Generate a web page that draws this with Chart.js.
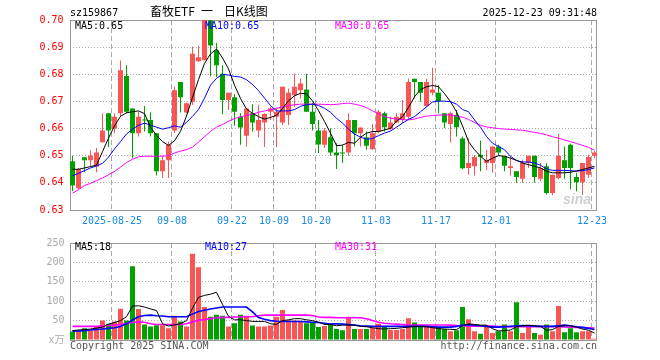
<!DOCTYPE html>
<html>
<head>
<meta charset="utf-8">
<script src="https://cdn.jsdelivr.net/npm/chart.js@4.4.1/dist/chart.umd.min.js"></script>
<style>
body { margin: 0; background: #fff; }
#wrap { position: relative; width: 660px; height: 360px; overflow: hidden; background: #fff;
  font-family: 'DejaVu Sans Mono', 'Noto Sans CJK SC', monospace; font-size: 10px; }
canvas { position: absolute; left: 0; }
.t { position: absolute; white-space: pre; line-height: 10px; }
.ti { position: absolute; top: 5px; font-family: 'Noto Sans CJK SC'; font-size: 12px; line-height: 12px; color: #000; white-space: pre; }
</style>
</head>
<body>
<div id="wrap">
  <canvas id="kline" width="660" height="232" style="top:0"></canvas>
  <canvas id="vol" width="660" height="128" style="top:232px"></canvas>

  <div class="t" style="left:70px;top:8px;color:#000">sz159867</div>
  <div class="ti" style="left:150px">畜牧ETF</div>
  <div class="ti" style="left:201px">一</div>
  <div class="ti" style="left:224px">日K线图</div>
  <div class="t" style="right:63px;top:8px;color:#000">2025-12-23 09:31:48</div>

  <div class="t" style="left:75px;top:21px;color:#000">MA5:0.65</div>
  <div class="t" style="left:205px;top:21px;color:#0000ff">MA10:0.65</div>
  <div class="t" style="left:335px;top:21px;color:#ff00ff">MA30:0.65</div>

  <div class="t" style="left:75px;top:242px;color:#000">MA5:18</div>
  <div class="t" style="left:205px;top:242px;color:#0000ff">MA10:27</div>
  <div class="t" style="left:335px;top:242px;color:#ff00ff">MA30:31</div>

  <div class="t" style="left:563px;top:192px;font-family:'Liberation Sans';font-style:italic;font-weight:bold;font-size:14px;line-height:14px;color:#cfcfcf">sina</div>

  <div class="t" style="left:70px;top:341px;color:#555">Copyright 2025 SINA.COM</div>
  <div class="t" style="right:63px;top:341px;color:#555">http://finance.sina.com.cn</div>
</div>

<script>
// trading days shown on the chart
const dates = [
  '2025-08-14','2025-08-15','2025-08-18','2025-08-19','2025-08-20','2025-08-21','2025-08-22',
  '2025-08-25','2025-08-26','2025-08-27','2025-08-28','2025-08-29',
  '2025-09-01','2025-09-02','2025-09-03','2025-09-04','2025-09-05',
  '2025-09-08','2025-09-09','2025-09-10','2025-09-11','2025-09-12',
  '2025-09-15','2025-09-16','2025-09-17','2025-09-18','2025-09-19',
  '2025-09-22','2025-09-23','2025-09-24','2025-09-25','2025-09-26','2025-09-29','2025-09-30',
  '2025-10-09','2025-10-10','2025-10-13','2025-10-14','2025-10-15','2025-10-16','2025-10-17',
  '2025-10-20','2025-10-21','2025-10-22','2025-10-23','2025-10-24',
  '2025-10-27','2025-10-28','2025-10-29','2025-10-30','2025-10-31',
  '2025-11-03','2025-11-04','2025-11-05','2025-11-06','2025-11-07',
  '2025-11-10','2025-11-11','2025-11-12','2025-11-13','2025-11-14',
  '2025-11-17','2025-11-18','2025-11-19','2025-11-20','2025-11-21',
  '2025-11-24','2025-11-25','2025-11-26','2025-11-27','2025-11-28',
  '2025-12-01','2025-12-02','2025-12-03','2025-12-04','2025-12-05',
  '2025-12-08','2025-12-09','2025-12-10','2025-12-11','2025-12-12',
  '2025-12-15','2025-12-16','2025-12-17','2025-12-18','2025-12-19',
  '2025-12-22','2025-12-23'
];
const tickDates = ['2025-08-25','2025-09-08','2025-09-22','2025-10-09','2025-10-20','2025-11-03','2025-11-17','2025-12-01','2025-12-23'];
const tickText = ['2025-08-25','09-08','09-22','10-09','10-20','11-03','11-17','12-01','12-23'];

const opens = [
  0.648,0.638,0.6494,0.6483,0.646,0.655,0.6656,0.660,0.6656,0.6794,
  0.6674,0.6583,0.6632,0.6632,0.6583,0.6443,0.6483,0.6593,0.6772,0.6659,
  0.6699,0.6848,0.6852,0.6998,0.6888,0.6802,0.6705,0.6715,0.6644,0.6574,
  0.6656,0.6593,0.6622,0.6662,0.6644,0.6622,0.665,0.6723,0.6741,0.6744,
  0.6662,0.6593,0.654,0.6568,0.6512,0.6512,0.6512,0.6632,0.6583,0.6568,
  0.6524,0.6589,0.6656,0.6598,0.6622,0.6632,0.6644,0.6784,0.6772,0.6683,
  0.6732,0.6732,0.6656,0.6617,0.665,0.6563,0.6455,0.6461,0.6504,0.6473,
  0.6473,0.6534,0.6498,0.6455,0.6443,0.6415,0.6473,0.650,0.6415,0.6461,
  0.6363,0.6418,0.6483,0.654,0.6422,0.6402,0.643,0.650
];
const highs = [
  0.650,0.6455,0.6494,0.652,0.6528,0.6656,0.6656,0.6656,0.6851,0.6833,
  0.6674,0.6662,0.6683,0.666,0.6583,0.650,0.6552,0.6754,0.6772,0.6695,
  0.6902,0.6905,0.700,0.700,0.6915,0.6833,0.6732,0.6727,0.6656,0.6674,
  0.669,0.6688,0.6656,0.668,0.6674,0.6754,0.6748,0.6802,0.6784,0.6802,
  0.6695,0.6632,0.6601,0.6601,0.6546,0.654,0.6656,0.6632,0.6604,0.6589,
  0.6617,0.6668,0.6662,0.6644,0.6656,0.6705,0.6784,0.6784,0.6772,0.6784,
  0.6824,0.676,0.6656,0.6662,0.6668,0.6571,0.6563,0.6503,0.6556,0.6522,
  0.6534,0.654,0.650,0.6498,0.6443,0.6485,0.650,0.650,0.6473,0.6473,
  0.643,0.658,0.6534,0.6545,0.6437,0.6473,0.6504,0.6516
];
const lows = [
  0.637,0.6375,0.644,0.646,0.6439,0.6549,0.6532,0.6583,0.6644,0.6656,
  0.6491,0.6571,0.6589,0.6571,0.6427,0.6418,0.6418,0.6583,0.6659,0.6656,
  0.6687,0.6845,0.6852,0.6793,0.679,0.6654,0.6668,0.661,0.654,0.6534,
  0.6589,0.6568,0.6532,0.6632,0.6532,0.6613,0.6613,0.668,0.6711,0.6662,
  0.6593,0.651,0.6528,0.650,0.6451,0.6473,0.650,0.6534,0.6534,0.6522,
  0.6522,0.6583,0.6589,0.6595,0.662,0.662,0.6632,0.6711,0.6699,0.668,
  0.6723,0.6656,0.6601,0.6549,0.6571,0.6451,0.643,0.6427,0.6443,0.6446,
  0.6437,0.650,0.6443,0.6427,0.640,0.640,0.6455,0.640,0.6406,0.6357,
  0.6354,0.6412,0.6415,0.6376,0.6369,0.6355,0.6418,0.6491
];
const closes = [
  0.639,0.645,0.6483,0.650,0.6512,0.6593,0.6593,0.6644,0.6815,0.6662,
  0.6583,0.6644,0.663,0.6583,0.6443,0.6483,0.654,0.6741,0.6715,0.6693,
  0.6876,0.6863,0.700,0.6906,0.6833,0.6705,0.6732,0.6662,0.6604,0.6674,
  0.6622,0.6632,0.6654,0.6674,0.6662,0.6754,0.6732,0.6754,0.6766,0.6662,
  0.6617,0.6541,0.6593,0.6512,0.6502,0.6508,0.6632,0.6583,0.6604,0.6537,
  0.6583,0.6662,0.6605,0.6622,0.6644,0.6656,0.6772,0.6772,0.6732,0.6772,
  0.6744,0.6702,0.6622,0.6656,0.6605,0.6454,0.6473,0.6495,0.6495,0.6485,
  0.6534,0.6512,0.6463,0.6461,0.6422,0.6473,0.650,0.6422,0.6455,0.6363,
  0.643,0.650,0.6455,0.6455,0.6402,0.6473,0.6495,0.6512
];
const ma5 = [
  0.645,0.645,0.6455,0.646,0.6465,0.6515,0.6565,0.661,0.6645,0.6658,
  0.6662,0.6665,0.6655,0.6605,0.6575,0.6552,0.6538,0.6555,0.659,0.6646,
  0.6715,0.678,0.684,0.6875,0.6893,0.686,0.682,0.676,0.6711,0.6672,
  0.6656,0.6644,0.6635,0.6641,0.6649,0.6674,0.6702,0.6721,0.673,0.6728,
  0.6702,0.6666,0.6626,0.6583,0.6537,0.6539,0.6549,0.6546,0.6568,0.6583,
  0.6589,0.6589,0.6595,0.6601,0.6628,0.6644,0.6678,0.6717,0.6744,0.6754,
  0.6759,0.6754,0.6729,0.6699,0.6662,0.661,0.6552,0.6522,0.6498,0.6479,
  0.6491,0.650,0.6498,0.6491,0.6483,0.6473,0.6467,0.6461,0.6455,0.6443,
  0.6437,0.6437,0.6437,0.6439,0.6444,0.6449,0.6455,0.6461
];
const ma10 = [
  0.6426,0.6435,0.6445,0.6455,0.6462,0.6472,0.6495,0.6525,0.6552,0.658,
  0.6598,0.6612,0.662,0.6613,0.6605,0.6598,0.6603,0.661,0.6605,0.6623,
  0.6645,0.667,0.6712,0.676,0.6785,0.680,0.6797,0.6792,0.679,0.678,
  0.6762,0.674,0.6712,0.6685,0.6665,0.6665,0.6665,0.667,0.6682,0.6688,
  0.669,0.6685,0.6675,0.666,0.6638,0.662,0.6598,0.658,0.6568,0.6561,
  0.6563,0.6574,0.6583,0.6591,0.6605,0.662,0.6634,0.6644,0.6662,0.668,
  0.6698,0.6701,0.6701,0.6699,0.669,0.667,0.6662,0.6632,0.6605,0.6571,
  0.6546,0.6534,0.6522,0.6498,0.6482,0.6477,0.6477,0.6473,0.6465,0.6451,
  0.6446,0.6446,0.6446,0.6445,0.6443,0.6445,0.6449,0.6455
];
const ma30 = [
  0.6362,0.6375,0.639,0.6398,0.6408,0.6418,0.643,0.6442,0.6458,0.6475,
  0.6487,0.6496,0.6498,0.6498,0.6498,0.6498,0.650,0.651,0.6517,0.6522,
  0.6532,0.655,0.657,0.659,0.6605,0.6615,0.6627,0.6637,0.6643,0.6648,
  0.6653,0.666,0.6665,0.667,0.6675,0.668,0.6684,0.6688,0.669,0.669,
  0.669,0.669,0.6689,0.6688,0.6689,0.6692,0.6694,0.669,0.6685,0.6677,
  0.6665,0.6655,0.6645,0.6638,0.6635,0.6633,0.6632,0.6635,0.6641,0.6646,
  0.6648,0.665,0.665,0.665,0.6646,0.6642,0.6634,0.6622,0.6612,0.6606,
  0.6603,0.660,0.6598,0.6597,0.6595,0.6594,0.659,0.6586,0.6582,0.6577,
  0.657,0.6565,0.6558,0.6552,0.6545,0.6538,0.6531,0.652
];

// volume, unit: 10k lots
const volumes = [
  21.7,24.2,30,24.2,35,50,41.7,47.5,80.8,50,
  190,80,40,35,38.3,38.3,30,62.5,47.5,35,
  222.5,187.5,85,60,65,62.5,35,43.3,65,62.5,
  37.5,35,35,37.5,60,77.5,50.8,50,46.7,43.3,
  45,33.3,35.8,41.7,28.3,25,60,28.3,28.3,28.3,
  30.8,41.7,33.3,25.8,25.8,28.3,55.8,45,36.7,33.3,
  33.3,33.3,28.3,22.5,25,85,53.3,22.5,15.8,33.3,
  18.3,22.5,40,22.5,97.5,18.3,33.3,18.3,13.3,40,
  22.5,87.5,20,30,20,22.5,22.5,3.3
];
const volMa5 = [
  24.2,25.8,26.7,28.3,30.8,33.3,40.8,45,50,60,
  87.5,88.3,85,80,76,42,36,39,42,50,
  82,110,115,118,123,92,61,52,52,50,
  48,48,48,42,40,50,52,55,55,52,
  50,46,40,40,36.7,38.3,38.3,38.3,35,34.2,
  31.7,29.2,28.3,29.2,30,31.7,33.3,35,35,34.2,
  31.7,29.2,28.3,27.5,26.7,36.7,41.7,40,38.3,38.3,
  29.2,23.3,24.2,25.8,34.2,36.7,38.3,36.7,35,25,
  26.7,35,36.7,36.7,33.3,28.3,25,18
];
const volMa10 = [
  22.5,23.3,24.2,25.8,27.5,28.3,30,31.7,35,41.7,
  51.7,60,63.3,64.2,62.5,61.7,60,60,60,60,
  66.7,73.3,76.7,80,82.5,85,85,85,85,85,
  72.5,58,53.3,50,48.3,47.5,47.5,47.5,47.5,46.7,
  45.8,45,43.3,41,41.7,40.8,40,38.3,36.7,35.8,
  35,35,35,35,35,35,35,35,35,35,
  34.2,33.3,33.3,33.3,35,38.3,39.2,38.3,36.7,35,
  33.3,33.3,34.2,35,36.7,37.5,36.7,35.8,35,35,
  35,36.7,38.3,36.7,34.2,32.5,30,27
];
const volMa30 = [
  35,35,35,35,35,36.7,37.5,38.3,40,42.5,
  45,46.7,45.8,41.7,40,40,40,40,40,41.7,
  46.7,50.8,52.5,55,57.5,58.3,58.3,59.2,59.2,60,
  60,62.5,64.2,64.2,64.2,64.2,64.2,64.2,64.2,64.2,
  63.3,59.2,58.3,58.3,57.5,57.5,57.5,57.5,57.5,55,
  50,45.8,43.3,41.7,40.8,40,39.2,38.8,38.8,38.8,
  38.8,38.8,38.8,38.3,37.5,36.7,35.8,35.8,35.8,35.8,
  35.8,34.6,34.6,34.6,34.6,34.6,34.6,34.6,34.6,34.6,
  34.6,34,33.5,33,32.5,32,31.5,31
];

const UP = '#fa5555', DOWN = '#00a000';
const MONO = "'DejaVu Sans Mono', 'Noto Sans CJK SC', monospace";
Chart.defaults.font.family = MONO;
Chart.defaults.font.size = 10;

const colors = opens.map((o, i) => closes[i] >= o ? UP : DOWN);
const tickIdx = tickDates.map(d => dates.indexOf(d));

// grey frame round the plot area
const frame = {
  id: 'frame',
  beforeDatasetsDraw(chart) {
    const a = chart.chartArea, c = chart.ctx;
    c.save();
    c.strokeStyle = '#999';
    c.lineWidth = 1;
    const l = Math.ceil(a.left) + 0.5, r = Math.floor(a.right) - 0.5;
    const t = Math.round(a.top) + 0.5, b = Math.round(a.bottom) + 0.5;
    c.strokeRect(l, t, r - l, b - t);
    c.restore();
  }
};

const vGrid = ctx => tickIdx.includes(ctx.index) ? '#aaa' : 'transparent';

function line(data, color, w) {
  return { type: 'line', data, borderColor: color, borderWidth: w, pointRadius: 0,
    tension: 0, order: 0 };
}

new Chart(document.getElementById('kline'), {
  type: 'bar',
  data: {
    labels: dates,
    datasets: [
      line(ma5, '#000', 1),
      line(ma10, '#0000ff', 1),
      line(ma30, '#ff00ff', 1),
      { data: opens.map((o, i) => [o, closes[i]]), backgroundColor: colors,
        barThickness: 5, grouped: false, minBarLength: 1, inflateAmount: 0, order: 1 },
      { data: lows.map((l, i) => [l, highs[i]]), backgroundColor: colors,
        barThickness: 1, grouped: false, inflateAmount: 0, order: 2 }
    ]
  },
  options: {
    responsive: false, animation: false,
    layout: { padding: { top: 20, right: 62.5, left: 0, bottom: 0 } },
    plugins: { legend: { display: false }, tooltip: { enabled: false } },
    scales: {
      x: {
        offset: true,
        afterFit: s => { s.height = 22; },
        grid: { offset: true, color: vGrid, lineWidth: 1, drawTicks: false },
        border: { display: false, dash: [5, 3] },
        ticks: {
          autoSkip: false, maxRotation: 0, minRotation: 0, color: '#1a8ae6',
          padding: 5, labelOffset: -2.5,
          callback: (v, i) => { const k = tickIdx.indexOf(i); return k >= 0 ? tickText[k] : ''; }
        }
      },
      y: {
        min: 0.63, max: 0.70,
        afterFit: s => { s.width = 69.5; },
        grid: { color: '#aaa', drawTicks: false },
        border: { display: false, dash: [1, 2] },
        ticks: { stepSize: 0.01, color: '#ff0000', padding: 6, callback: v => v.toFixed(2) }
      }
    }
  },
  plugins: [frame]
});

new Chart(document.getElementById('vol'), {
  type: 'bar',
  data: {
    labels: dates,
    datasets: [
      line(volMa5, '#000', 1),
      line(volMa10, '#0000ff', 1.6),
      line(volMa30, '#ff00ff', 1.6),
      { data: volumes, backgroundColor: colors, barThickness: 5, grouped: false,
        inflateAmount: 0, order: 1 }
    ]
  },
  options: {
    responsive: false, animation: false,
    layout: { padding: { top: 8, right: 62.5, left: 0, bottom: 20 } },
    plugins: { legend: { display: false }, tooltip: { enabled: false } },
    scales: {
      x: {
        offset: true,
        afterFit: s => { s.height = 0; },
        grid: { offset: true, color: vGrid, lineWidth: 1, drawTicks: false },
        border: { display: false, dash: [5, 3] },
        ticks: { display: false, autoSkip: false }
      },
      y: {
        min: 0, max: 250,
        afterFit: s => { s.width = 69.5; },
        grid: { color: '#aaa', drawTicks: false },
        border: { display: false, dash: [1, 2] },
        ticks: { stepSize: 50, color: '#aaa', padding: 5, callback: v => v === 0 ? 'x万' : v }
      }
    }
  },
  plugins: [frame]
});
</script>
</body>
</html>
